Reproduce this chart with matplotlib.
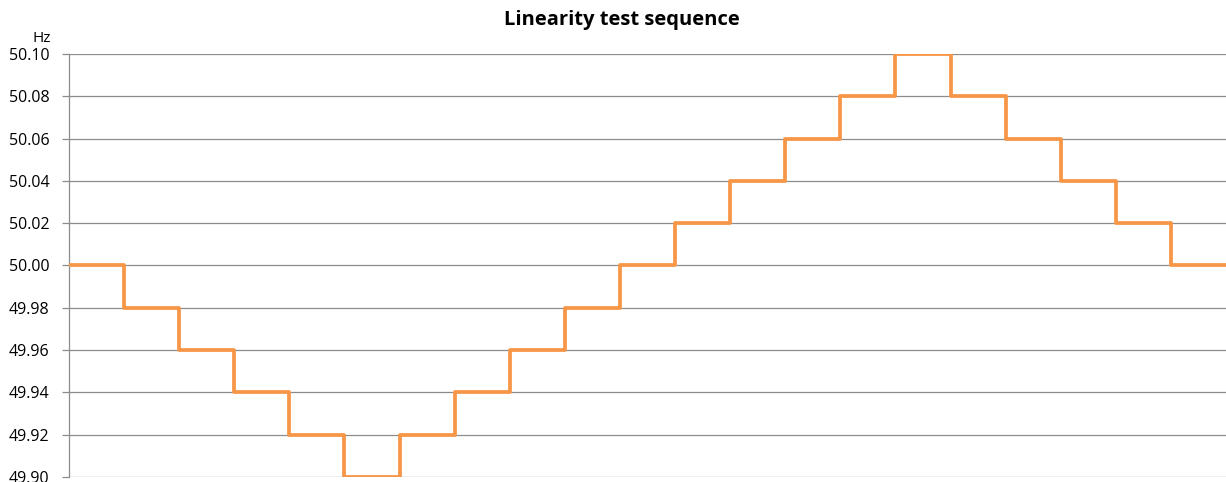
import matplotlib.pyplot as plt
import numpy as np

# Secuencia de escalones de frecuencia (Hz), cada escalón dura una unidad
frecuencias = [50.00, 49.98, 49.96, 49.94, 49.92, 49.90, 49.92, 49.94, 49.96, 49.98,
               50.00, 50.02, 50.04, 50.06, 50.08, 50.10, 50.08, 50.06, 50.04, 50.02,
               50.00]
yticks = [49.90, 49.92, 49.94, 49.96, 49.98, 50.00, 50.02, 50.04, 50.06, 50.08, 50.10]

plt.rcParams['font.family'] = ['Open Sans', 'DejaVu Sans']

fig = plt.figure(figsize=(12.26, 4.82), dpi=100)
ax = fig.add_axes([0.0563, 0.0104, 0.9437, 0.8776])

x = np.arange(len(frecuencias) + 1)
y = frecuencias + [frecuencias[-1]]
ax.step(x, y, where='post', color='#F79646', linewidth=2.7, zorder=3)

ax.set_xlim(0, len(frecuencias))
ax.set_ylim(49.90, 50.10)
ax.set_yticks(yticks)
ax.set_yticklabels(['%.2f' % v for v in yticks], fontsize=11.5)
ax.set_xticks([])

ax.grid(True, axis='y', color='#8c8c8c', linewidth=0.9)
for s in ['top', 'right', 'bottom']:
    ax.spines[s].set_visible(False)
ax.spines['left'].set_color('#8c8c8c')
ax.spines['left'].set_linewidth(0.9)
ax.tick_params(axis='y', length=5, color='#8c8c8c', width=0.9, pad=9)

fig.text(0.034, 0.921, 'Hz', fontsize=11, ha='center', va='center')
fig.text(0.507, 0.958, 'Linearity test sequence', fontsize=14.5, fontweight='bold',
         ha='center', va='center')

fig.savefig('out.png', dpi=100)
